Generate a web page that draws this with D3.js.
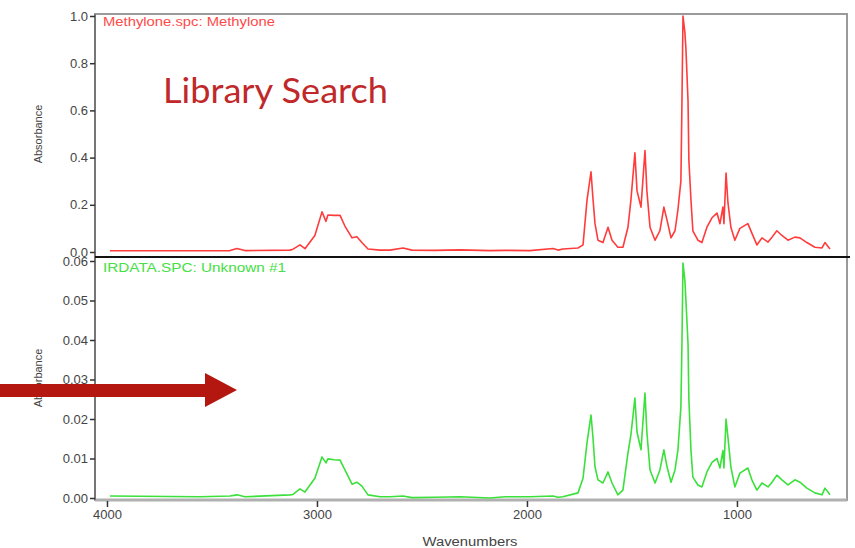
<!DOCTYPE html>
<html>
<head>
<meta charset="utf-8">
<script src="https://cdn.jsdelivr.net/npm/d3@7"></script>
<style>
  body { margin: 0; background: #fff; }
  svg { display: block; }
</style>
</head>
<body>
<svg id="chart" width="855" height="548"></svg>
<script>
// wavenumbers (cm-1) shared by both spectra
const wavenumbers = [3986, 3557, 3414, 3381, 3343, 3129, 3114, 3081, 3057, 3010,
    2976, 2957, 2948, 2919, 2890, 2867, 2833, 2810, 2786, 2757,
    2700, 2652, 2590, 2548, 2438, 2319, 2176, 2105, 1986, 1876,
    1852, 1829, 1757, 1733, 1714, 1695, 1686, 1676, 1662, 1638,
    1614, 1595, 1567, 1543, 1519, 1505, 1486, 1476, 1457, 1438,
    1429, 1414, 1390, 1367, 1348, 1333, 1314, 1295, 1281, 1267,
    1262, 1257, 1248, 1243, 1233, 1229, 1219, 1210, 1186, 1167,
    1143, 1119, 1095, 1081, 1067, 1062, 1052, 1043, 1029, 1010,
    986, 948, 929, 905, 881, 852, 833, 810, 786, 757,
    724, 700, 667, 629, 595, 581, 557];

// Methylone.spc library spectrum
const libraryAbs = [0.005, 0.005, 0.006, 0.015, 0.006, 0.008, 0.012, 0.03, 0.014, 0.07,
    0.17, 0.13, 0.157, 0.155, 0.155, 0.11, 0.06, 0.065, 0.04, 0.013,
    0.008, 0.008, 0.017, 0.008, 0.007, 0.009, 0.006, 0.007, 0.006, 0.015,
    0.008, 0.013, 0.017, 0.03, 0.22, 0.34, 0.23, 0.12, 0.05, 0.04,
    0.105, 0.05, 0.02, 0.02, 0.105, 0.22, 0.42, 0.26, 0.19, 0.43,
    0.26, 0.105, 0.05, 0.09, 0.19, 0.135, 0.06, 0.09, 0.18, 0.30,
    0.63, 1.0, 0.93, 0.86, 0.64, 0.39, 0.22, 0.09, 0.05, 0.04,
    0.105, 0.145, 0.165, 0.12, 0.19, 0.12, 0.335, 0.21, 0.105, 0.05,
    0.10, 0.12, 0.08, 0.03, 0.06, 0.042, 0.063, 0.09, 0.07, 0.05,
    0.063, 0.06, 0.04, 0.02, 0.017, 0.04, 0.013];

// IRDATA.SPC unknown sample
const unknownAbs = [0.0005, 0.0003, 0.0005, 0.0008, 0.0003, 0.0008, 0.0009, 0.0023, 0.0015, 0.005,
    0.0104, 0.0089, 0.0099, 0.0097, 0.0096, 0.0071, 0.0035, 0.004, 0.003, 0.0008,
    0.0003, 0.0003, 0.0005, 0.0001, 0.0002, 0.0003, 0.0, 0.0003, 0.0003, 0.0005,
    0.0002, 0.0003, 0.0013, 0.005, 0.014, 0.021, 0.0155, 0.0079, 0.0046, 0.0038,
    0.0066, 0.0038, 0.0008, 0.002, 0.0114, 0.016, 0.0253, 0.0167, 0.0122, 0.0266,
    0.0167, 0.0071, 0.0038, 0.0071, 0.0122, 0.0079, 0.004, 0.0071, 0.0122, 0.023,
    0.039, 0.0595, 0.055, 0.050, 0.039, 0.025, 0.012, 0.0053, 0.0033, 0.0028,
    0.0066, 0.009, 0.010, 0.0076, 0.012, 0.0076, 0.020, 0.0154, 0.0079, 0.0028,
    0.0063, 0.0076, 0.0046, 0.002, 0.0038, 0.0028, 0.004, 0.0058, 0.0046, 0.0033,
    0.0046, 0.004, 0.0025, 0.0013, 0.0008, 0.0025, 0.0008];

const topTicks = [0, 0.2, 0.4, 0.6, 0.8, 1.0];
const bottomTicks = [0, 0.01, 0.02, 0.03, 0.04, 0.05, 0.06];
const xTicks = [4000, 3000, 2000, 1000];

const svg = d3.select("#chart");
const left = 95, right = 847;
const topY0 = 14, midY = 257, botY = 500;

svg.append("rect").attr("width", 855).attr("height", 548).attr("fill", "#fff");

const x = d3.scaleLinear().domain([4057, 476]).range([left, right]);
const yTop = d3.scaleLinear().domain([0, 1]).range([252, 16]);
const yBot = d3.scaleLinear().domain([0, 0.06]).range([498, 261]);

const libData = wavenumbers.map((w, i) => ({ w: w, v: libraryAbs[i] }));
const unkData = wavenumbers.map((w, i) => ({ w: w, v: unknownAbs[i] }));

// panel frames
svg.append("rect")
    .attr("x", left).attr("y", topY0)
    .attr("width", right - left).attr("height", botY - topY0)
    .attr("fill", "none").attr("stroke", "#9a9a9a").attr("stroke-width", 2);
svg.append("line")
    .attr("x1", left).attr("x2", right)
    .attr("y1", botY).attr("y2", botY)
    .attr("stroke", "#b0b0b0").attr("stroke-width", 3);
svg.append("line")
    .attr("x1", left).attr("x2", left)
    .attr("y1", topY0).attr("y2", botY)
    .attr("stroke", "#6a6a6a").attr("stroke-width", 1.5);

// spectra
const lineTop = d3.line().x(d => x(d.w)).y(d => yTop(d.v));
const lineBot = d3.line().x(d => x(d.w)).y(d => yBot(d.v));

svg.append("path").datum(libData)
    .attr("d", lineTop)
    .attr("fill", "none").attr("stroke", "#ff3b3b")
    .attr("stroke-width", 1.6).attr("stroke-linejoin", "round");

svg.append("path").datum(unkData)
    .attr("d", lineBot)
    .attr("fill", "none").attr("stroke", "#3be03b")
    .attr("stroke-width", 1.6).attr("stroke-linejoin", "round");

// divider between the two panels
svg.append("line")
    .attr("x1", left).attr("x2", 850)
    .attr("y1", midY).attr("y2", midY)
    .attr("stroke", "#111").attr("stroke-width", 2);

// axes
function styleAxis(g) {
    g.select(".domain").remove();
    g.selectAll(".tick line").attr("stroke", "#333").attr("stroke-width", 1.5);
    g.selectAll(".tick text")
        .attr("fill", "#444")
        .style("font-family", "'Liberation Sans', Arial, sans-serif")
        .style("font-size", "13px");
}

svg.append("g")
    .attr("transform", `translate(${left},0)`)
    .call(d3.axisLeft(yTop).tickValues(topTicks).tickFormat(d3.format(".1f")).tickSize(5).tickPadding(2))
    .call(styleAxis);

svg.append("g")
    .attr("transform", `translate(${left},0)`)
    .call(d3.axisLeft(yBot).tickValues(bottomTicks).tickFormat(d3.format(".2f")).tickSize(5).tickPadding(2))
    .call(styleAxis);

svg.append("g")
    .attr("transform", `translate(0,${botY + 1})`)
    .call(d3.axisBottom(x).tickValues(xTicks).tickFormat(d3.format("d")).tickSize(6).tickPadding(3))
    .call(styleAxis);

// axis titles
const labelFont = "'Liberation Sans', Arial, sans-serif";
[134, 378].forEach(cy => {
    svg.append("text")
        .attr("transform", `translate(42,${cy}) rotate(-90)`)
        .attr("text-anchor", "middle")
        .attr("fill", "#444")
        .style("font-family", labelFont).style("font-size", "11px")
        .text("Absorbance");
});

svg.append("text")
    .attr("x", 470).attr("y", 546)
    .attr("text-anchor", "middle")
    .attr("fill", "#444")
    .style("font-family", labelFont).style("font-size", "12px")
    .attr("textLength", 95).attr("lengthAdjust", "spacingAndGlyphs")
    .text("Wavenumbers");

// spectrum names
svg.append("text")
    .attr("x", 103).attr("y", 26)
    .attr("fill", "#ff4a4a")
    .style("font-family", labelFont).style("font-size", "12px")
    .attr("textLength", 172).attr("lengthAdjust", "spacingAndGlyphs")
    .text("Methylone.spc: Methylone");

svg.append("text")
    .attr("x", 103).attr("y", 272)
    .attr("fill", "#44e044")
    .style("font-family", labelFont).style("font-size", "12px")
    .attr("textLength", 183).attr("lengthAdjust", "spacingAndGlyphs")
    .text("IRDATA.SPC: Unknown #1");

// annotation
svg.append("text")
    .attr("x", 163).attr("y", 103)
    .attr("fill", "#c0282a")
    .style("font-family", "Lato, 'Open Sans', sans-serif").style("font-size", "35px")
    .attr("textLength", 225).attr("lengthAdjust", "spacingAndGlyphs")
    .text("Library Search");

svg.append("path")
    .attr("d", "M0,384 L205,384 L205,373 L237,390 L205,407 L205,397 L0,397 Z")
    .attr("fill", "#b3170f");
</script>
</body>
</html>
